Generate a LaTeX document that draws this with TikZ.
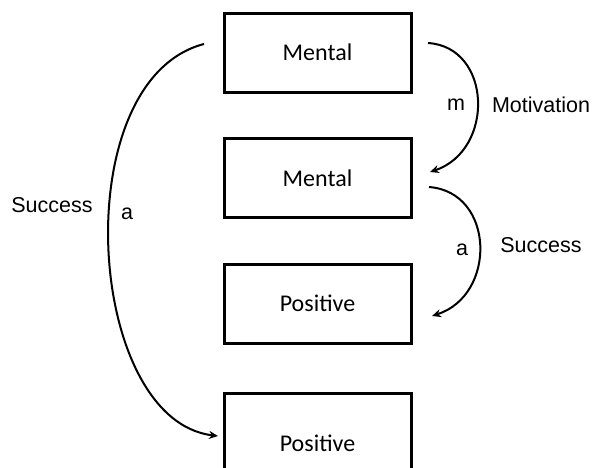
\documentclass[tikz,border=0pt]{standalone}
\usepackage{fontspec}
\setmainfont{Carlito}
\newfontfamily\arialf{Liberation Sans}
\usetikzlibrary{arrows.meta}
\begin{document}
\begin{tikzpicture}[x=1pt,y=-1pt,
  box/.style={draw=black,line width=3pt,minimum width=187pt,minimum height=79pt,inner sep=0pt,font=\fontsize{24}{28}\selectfont},
  lbl/.style={font=\arialf\fontsize{21.5}{26}\selectfont,inner sep=0pt},
  conn/.style={line width=2pt,-{Stealth[length=9pt,width=8pt]}}]
\useasboundingbox (0,0) rectangle (608,467);
\clip (0,0) rectangle (608,467);
\fill[white] (0,0) rectangle (608,467);
\node[box] (b1) at (317.5,52.5) {Mental};
\node[box] (b2) at (317.5,178) {Mental};
\node[box] (b3) at (317.5,303.5) {Positive};
\node[box,minimum height=100pt] (b4) at (317.5,443) {Positive};
\coordinate (m1s) at (428,43);
\coordinate (m1e) at (430,172);
\coordinate (a1s) at (429,187);
\coordinate (a1e) at (432,316);
\coordinate (ls) at (204,44);
\coordinate (le) at (218,436);
\draw[conn] (m1s) .. controls (492,47) and (495,150) .. (m1e);
\draw[conn] (a1s) .. controls (495,192) and (497,295) .. (a1e);
\draw[conn] (ls) .. controls (65,80) and (85,420) .. (le);
\node[lbl] (lm) at (456,105) {m};
\node[lbl] (lmot) at (541,105) {Motivation};
\node[lbl] (la) at (462,250) {a};
\node[lbl] (lsuc) at (541,245) {Success};
\node[lbl] (la2) at (127,214) {a};
\node[lbl] (lsuc2) at (52,205) {Success};
\end{tikzpicture}
\end{document}
